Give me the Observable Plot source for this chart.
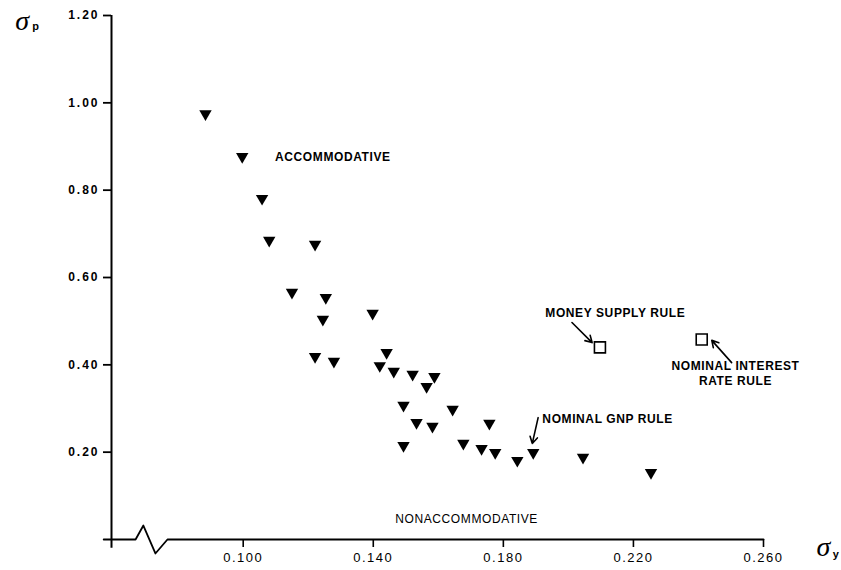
<!DOCTYPE html>
<html>
<head>
<meta charset="utf-8">
<script src="https://cdn.jsdelivr.net/npm/d3@7"></script>
<script src="https://cdn.jsdelivr.net/npm/@observablehq/plot@0.6"></script>
<style>
  body { margin: 0; background: white; }
  #chart svg { display: block; }
  .ylab text { letter-spacing: 2px; }
  .xlab text { letter-spacing: 1.5px; }
  .ann text { letter-spacing: 0.6px; }
</style>
</head>
<body>
<div id="chart"></div>
<script>
// Policy rules: sigma_y (x) vs sigma_p (y)
const sigmaY = [0.0884, 0.0997, 0.1058, 0.1080, 0.1221, 0.1150, 0.1254, 0.1245, 0.1398, 0.1221,
                0.1279, 0.1420, 0.1441, 0.1463, 0.1521, 0.1588, 0.1564, 0.1493, 0.1644, 0.1533,
                0.1582, 0.1493, 0.1677, 0.1757, 0.1733, 0.1775, 0.1843, 0.1892, 0.2045, 0.2254];
const sigmaP = [0.975, 0.877, 0.781, 0.685, 0.676, 0.566, 0.554, 0.504, 0.518, 0.419,
                0.408, 0.398, 0.428, 0.385, 0.378, 0.373, 0.350, 0.307, 0.298, 0.268,
                0.259, 0.215, 0.220, 0.266, 0.208, 0.199, 0.181, 0.199, 0.188, 0.153];

const ruleNames = ["MONEY SUPPLY RULE", "NOMINAL INTEREST RATE RULE"];
const ruleSigmaY = [0.2097, 0.2410];
const ruleSigmaP = [0.440, 0.458];

const xTicks = [0.100, 0.140, 0.180, 0.220, 0.260];
const yTicks = [0.20, 0.40, 0.60, 0.80, 1.00, 1.20];
const xDomain = [0.0595, 0.26];
const yDomain = [0, 1.2];

// Broken x axis line (data units)
const axisBreakX = [0.0571, 0.0669, 0.0693, 0.0730, 0.0767, 0.26];
const axisBreakY = [0, 0, 0.032, -0.032, 0, 0];

const annLabels = ["ACCOMMODATIVE", "NONACCOMMODATIVE", "MONEY SUPPLY RULE", "NOMINAL GNP RULE", "NOMINAL INTEREST\nRATE RULE"];
const annX = [0.1098, 0.1687, 0.1929, 0.1920, 0.2514];
const annY = [0.879, 0.050, 0.522, 0.279, 0.382];
const annAnchor = ["start", "middle", "start", "start", "middle"];
const annBold = [true, false, true, true, true];

const arrowX1 = [0.2011, 0.2502, 0.1907];
const arrowY1 = [0.497, 0.405, 0.279];
const arrowX2 = [0.2073, 0.2441, 0.1889];
const arrowY2 = [0.451, 0.456, 0.220];

const axisSymbols = ["σ", "σ"];
const axisSubs = ["p", "y"];
const symX = [0.0320, 0.2784];
const symY = [1.188, -0.018];
const subX = [0.0362, 0.2822];
const subY = [1.176, -0.034];

const points = sigmaY.map((x, i) => ({x, y: sigmaP[i]}));
const rules = ruleNames.map((name, i) => ({name, x: ruleSigmaY[i], y: ruleSigmaP[i]}));
const axisLine = axisBreakX.map((x, i) => ({x, y: axisBreakY[i]}));
const anns = annLabels.map((label, i) => ({label, x: annX[i], y: annY[i], anchor: annAnchor[i], bold: annBold[i]}));
const arrows = arrowX1.map((x1, i) => ({x1, y1: arrowY1[i], x2: arrowX2[i], y2: arrowY2[i]}));
const syms = axisSymbols.map((s, i) => ({s, x: symX[i], y: symY[i], sub: axisSubs[i], sx: subX[i], sy: subY[i]}));

const triangleDown = {
  draw(context, size) {
    const y = Math.sqrt(size / (Math.sqrt(3) * 3));
    context.moveTo(0, 2 * y);
    context.lineTo(-Math.sqrt(3) * y, -y);
    context.lineTo(Math.sqrt(3) * y, -y);
    context.closePath();
  }
};

const font = "'Liberation Sans', Arial, Helvetica, sans-serif";

const annText = (bold, anchor) => Plot.text(anns.filter(d => d.bold === bold && d.anchor === anchor), {
  x: "x", y: "y", text: "label", textAnchor: anchor, fontWeight: bold ? "bold" : "normal",
  fontSize: 12, fontFamily: font, fill: "black", lineHeight: 1.3, className: "ann"
});

const chart = Plot.plot({
  width: 841,
  height: 570,
  marginLeft: 111,
  marginRight: 78,
  marginTop: 15,
  marginBottom: 31,
  style: {background: "white", fontFamily: font, color: "black", overflow: "visible"},
  x: {domain: xDomain},
  y: {domain: yDomain},
  marks: [
    Plot.axisY(yTicks, {anchor: "left", tickSize: 8, tickPadding: 4, strokeWidth: 1.8,
      tickFormat: d3.format(".2f"), fontSize: 12, fontWeight: "bold", fontFamily: font, className: "ylab", label: null}),
    Plot.axisX(xTicks, {anchor: "bottom", tickSize: 8, tickPadding: 5, strokeWidth: 1.6,
      tickFormat: d3.format(".3f"), fontSize: 13, fontFamily: font, className: "xlab", label: null}),
    Plot.ruleX([xDomain[0]], {y1: -0.02, y2: yDomain[1], strokeWidth: 2, stroke: "black"}),
    Plot.line(axisLine, {x: "x", y: "y", stroke: "black", strokeWidth: 1.8, curve: "linear"}),
    Plot.dot(points, {x: "x", y: "y", symbol: triangleDown, r: 4.6, fill: "black", stroke: "none"}),
    Plot.dot(rules, {x: "x", y: "y", symbol: "square", r: 6.2, fill: "white", stroke: "black", strokeWidth: 1.6}),
    Plot.arrow(arrows, {x1: "x1", y1: "y1", x2: "x2", y2: "y2", stroke: "black", strokeWidth: 1.6, headLength: 7}),
    annText(true, "start"),
    annText(true, "middle"),
    annText(false, "middle"),
    Plot.text(syms, {x: "x", y: "y", text: "s", fontFamily: "'Liberation Serif', 'DejaVu Serif', serif",
      fontStyle: "italic", fontSize: 28, fill: "black"}),
    Plot.text(syms, {x: "sx", y: "sy", text: "sub", fontFamily: font, fontWeight: "bold", fontSize: 11, fill: "black"})
  ]
});

document.getElementById("chart").appendChild(chart);
</script>
</body>
</html>
